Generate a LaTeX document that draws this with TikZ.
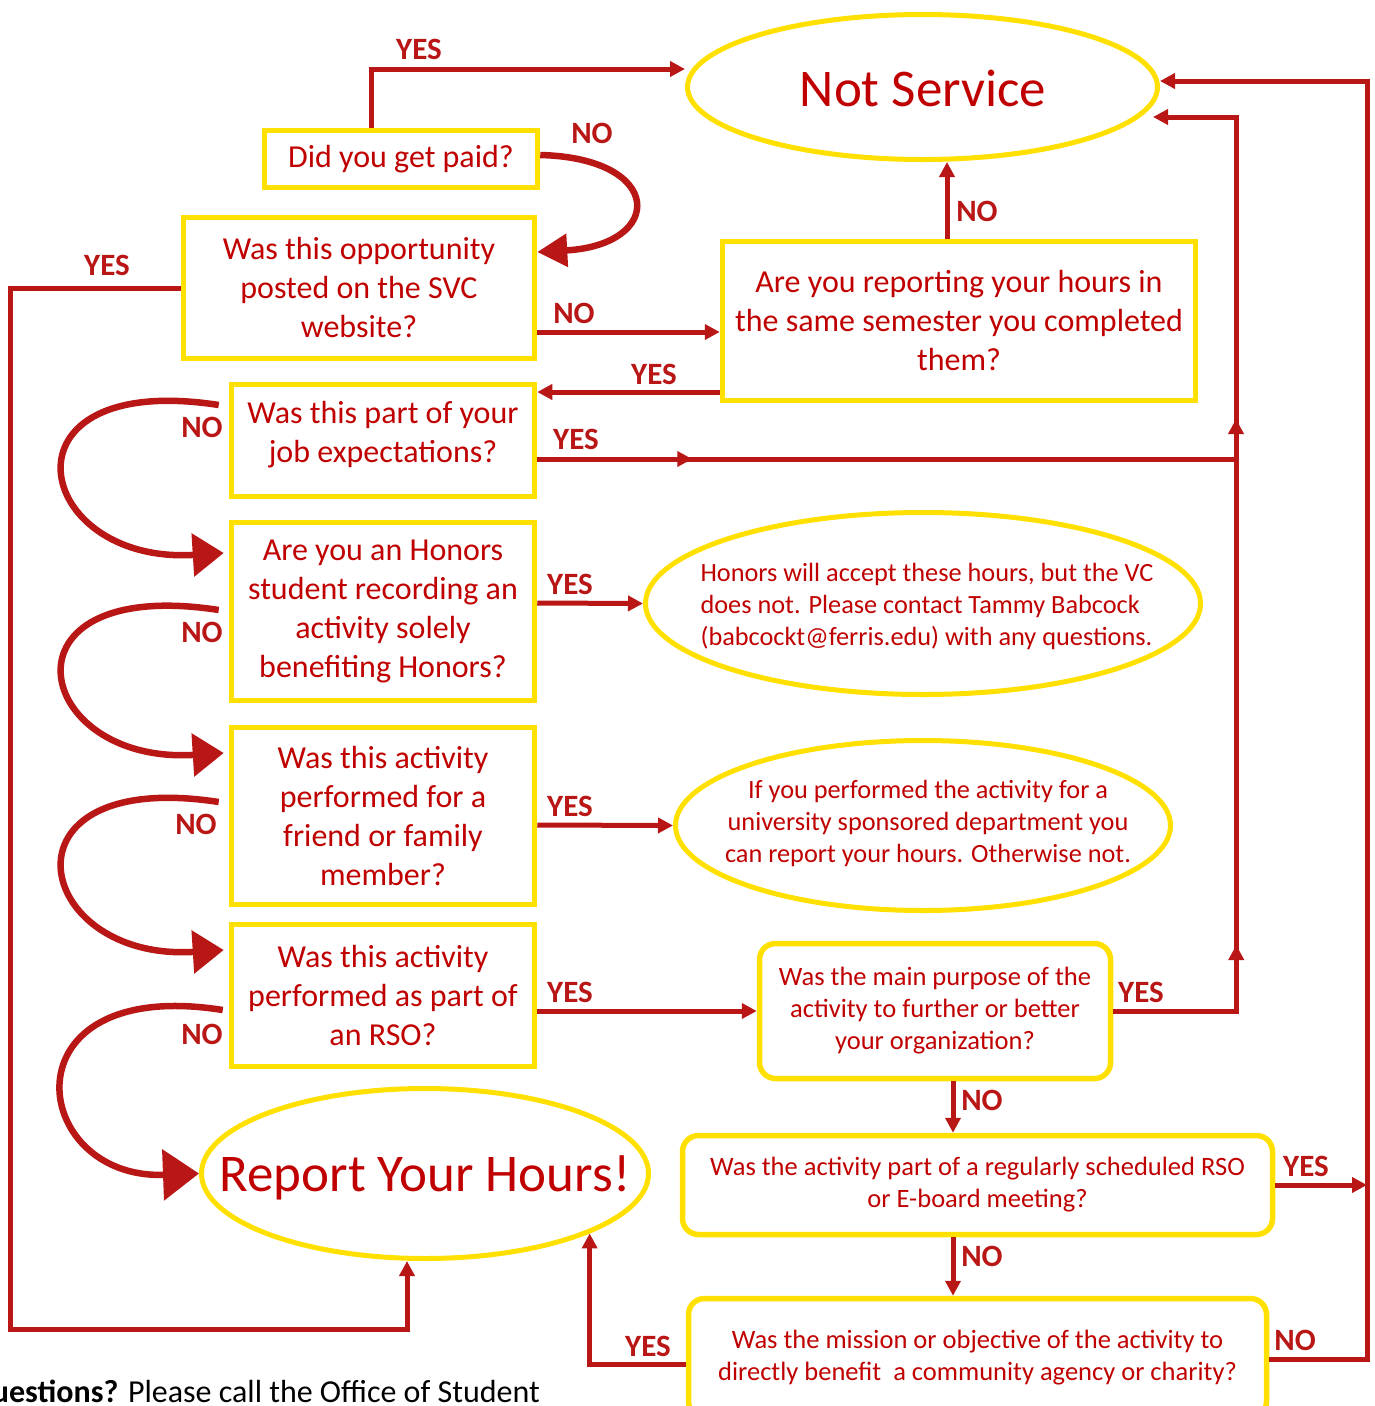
\documentclass[tikz,border=0pt]{standalone}
\usepackage{fontspec}
\setmainfont{Carlito}
\usetikzlibrary{arrows.meta,shapes.geometric,calc}
\definecolor{fred}{RGB}{185,22,22}
\definecolor{ftxt}{RGB}{192,0,0}
\definecolor{fyel}{RGB}{255,224,0}
\begin{document}
\begin{tikzpicture}[x=1pt,y=-1pt,
 qbox/.style={draw=fyel, line width=5.5pt, fill=white, inner sep=0pt, align=center, text=ftxt, font=\fontsize{32}{39}\selectfont},
 rbox/.style={qbox, rounded corners=16pt, font=\fontsize{26.5}{32}\selectfont},
 oval/.style={ellipse, draw=fyel, line width=5pt, inner sep=0pt},
 otext/.style={text=ftxt, inner sep=0pt, font=\fontsize{26.3}{32}\selectfont},
 bigtext/.style={text=ftxt, inner sep=0pt, font=\fontsize{53}{60}\selectfont},
 ln/.style={draw=fred, line width=5pt},
 arr/.style={ln, -{Triangle[length=15pt,width=15pt]}},
 carr/.style={draw=fred, line width=6.5pt, -{Triangle[length=31pt,width=42pt]}},
 lbl/.style={text=fred, inner sep=0pt, font=\fontsize{31}{32}\selectfont\bfseries}
]
\useasboundingbox (0,0) rectangle (1374,1406);

% ---- ellipses
\node[oval, minimum width=470pt, minimum height=145pt] (ns) at (922.5,87) {};
\node[bigtext] (nst) at (923,88) {Not Service};
\node[oval, minimum width=447pt, minimum height=170pt] (report) at (425,1173.5) {};
\node[bigtext] (rept) at (425,1178) {Report Your Hours!};
\node[oval, minimum width=555pt, minimum height=182pt] (honE) at (923,603.5) {};
\node[otext, align=left] (honEt) at (927,606) {Honors will accept these hours, but the VC\\does not. Please contact Tammy Babcock\\(babcockt@ferris.edu) with any questions.};
\node[oval, minimum width=495pt, minimum height=170pt] (friE) at (923,825.5) {};
\node[otext, align=center] (friEt) at (928,823) {If you performed the activity for a\\university sponsored department you\\can report your hours. Otherwise not.};

% ---- boxes
\node[qbox, minimum width=273pt, minimum height=57pt] (paid) at (401,159) {Did you get paid?};
\node[qbox, minimum width=351pt, minimum height=141pt] (opp) at (359,288) {Was this opportunity\\posted on the SVC\\website?};
\node[qbox, minimum width=473pt, minimum height=159pt] (rep) at (959,321) {Are you reporting your hours in\\the same semester you completed\\them?};
\node[qbox, minimum width=303pt, minimum height=112pt] (job) at (383,440.5) {};
\node[text=ftxt, inner sep=0pt, align=center, font=\fontsize{32}{39}\selectfont] (jobt) at (383,435) {Was this part of your\\job expectations?};
\node[qbox, minimum width=303pt, minimum height=178pt] (hon) at (383,611.5) {Are you an Honors\\student recording an\\activity solely\\benefiting Honors?};
\node[qbox, minimum width=303pt, minimum height=177pt] (fri) at (383,816) {Was this activity\\performed for a\\friend or family\\member?};
\node[qbox, minimum width=303pt, minimum height=142pt] (rso) at (383,995.5) {Was this activity\\performed as part of\\an RSO?};
\node[rbox, minimum width=351pt, minimum height=135pt] (main) at (935,1011) {Was the main purpose of the\\activity to further or better\\your organization?};
\node[rbox, minimum width=590pt, minimum height=99pt] (reg) at (977.5,1185) {Was the activity part of a regularly scheduled RSO\\or E-board meeting?};
\node[rbox, minimum width=578pt, minimum height=119pt] (mis) at (977.5,1358) {Was the mission or objective of the activity to\\directly benefit\ \ a community agency or charity?};

% ---- bottom text
\node[anchor=base east, inner sep=0pt, font=\fontsize{32}{39}\selectfont] (q) at (540,1402) {\textbf{Questions?} Please call the Office of Student};

% ---- helper coordinates
\coordinate (vr) at (1236,459);
\coordinate (rr) at (1367,1185);

% ---- connectors
\draw[arr] (paid.north -| 371,0) |- (ns.west |- 0,69);
\draw[carr, -{Triangle[length=30pt,width=32pt]}] (paid.east |- 0,155) .. controls (665,158) and (665,245) .. (opp.east |- 0,252);
\draw[arr] (opp.west) -| (10,1329) -| (report.south -| 407,0);
\draw[arr] (opp.east |- 0,332) -- (rep.west |- 0,332);
\draw[arr] (rep.north -| 947,0) -- (ns.south -| 947,0);
\draw[arr] (rep.west |- 0,392) -- (job.east |- 0,392);
\draw[ln] (job.east |- 0,459) -- (vr);
\draw[arr] (job.east |- 0,459) -- ++(155,0);
\draw[ln] (main.east |- 0,1011) -| (vr);
\draw[arr] (main.east |- 0,1011) -| ++(123,-66);
\draw[arr] (vr) -- ++(0,-40);
\draw[arr] (vr) |- ($(ns.east |- 0,117)+(-7,0)$);
\draw[arr] (hon.east |- 0,603) -- (honE.west);
\draw[arr] (fri.east |- 0,825) -- (friE.west);
\draw[arr] (rso.east |- 0,1011) -- (main.west);
\draw[arr] (main.south -| 953,0) -- (reg.north -| 953,0);
\draw[arr] (reg.east) -- (rr);
\draw[arr] (reg.south -| 953,0) -- (mis.north -| 953,0);
\draw[arr] (mis.east |- 0,1359) -| (1367,81) -- (ns.east |- 0,81);
\draw[arr] (mis.west |- 0,1364) -| (report.-20.4);

% curved NO arrows
\draw[carr] ($(job.west |- 0,405)+(-10,0)$) .. controls (-8,370) and (32,565) .. ($(hon.west |- 0,553)+(-5,0)$);
\draw[carr] ($(hon.west |- 0,610)+(-10,0)$) .. controls (-8,575) and (32,765) .. ($(fri.west |- 0,753)+(-5,0)$);
\draw[carr] ($(fri.west |- 0,802)+(-10,0)$) .. controls (-8,767) and (32,962) .. ($(rso.west |- 0,950)+(-5,0)$);
\draw[carr, -{Triangle[length=36pt,width=50pt]}] ($(rso.west |- 0,1010)+(-6,0)$) .. controls (2,975) and (28,1180) .. (report.west);

% ---- labels
\node[lbl] (l1) at (419,49) {YES};
\node[lbl] (l2) at (592,133) {NO};
\node[lbl] (l3) at (107,265) {YES};
\node[lbl] (l4) at (574,313) {NO};
\node[lbl] (l5) at (977,211) {NO};
\node[lbl] (l6) at (654,374) {YES};
\node[lbl] (l7) at (576,439) {YES};
\node[lbl] (l8) at (202,427) {NO};
\node[lbl] (l9) at (570,584) {YES};
\node[lbl] (l10) at (202,632) {NO};
\node[lbl] (l11) at (570,806) {YES};
\node[lbl] (l12) at (196,824) {NO};
\node[lbl] (l13) at (570,992) {YES};
\node[lbl] (l14) at (202,1034) {NO};
\node[lbl] (l15) at (1141,992) {YES};
\node[lbl] (l16) at (982,1100) {NO};
\node[lbl] (l17) at (1306,1166) {YES};
\node[lbl] (l18) at (982,1256) {NO};
\node[lbl] (l19) at (1295,1340) {NO};
\node[lbl] (l20) at (648,1346) {YES};
\end{tikzpicture}
\end{document}
